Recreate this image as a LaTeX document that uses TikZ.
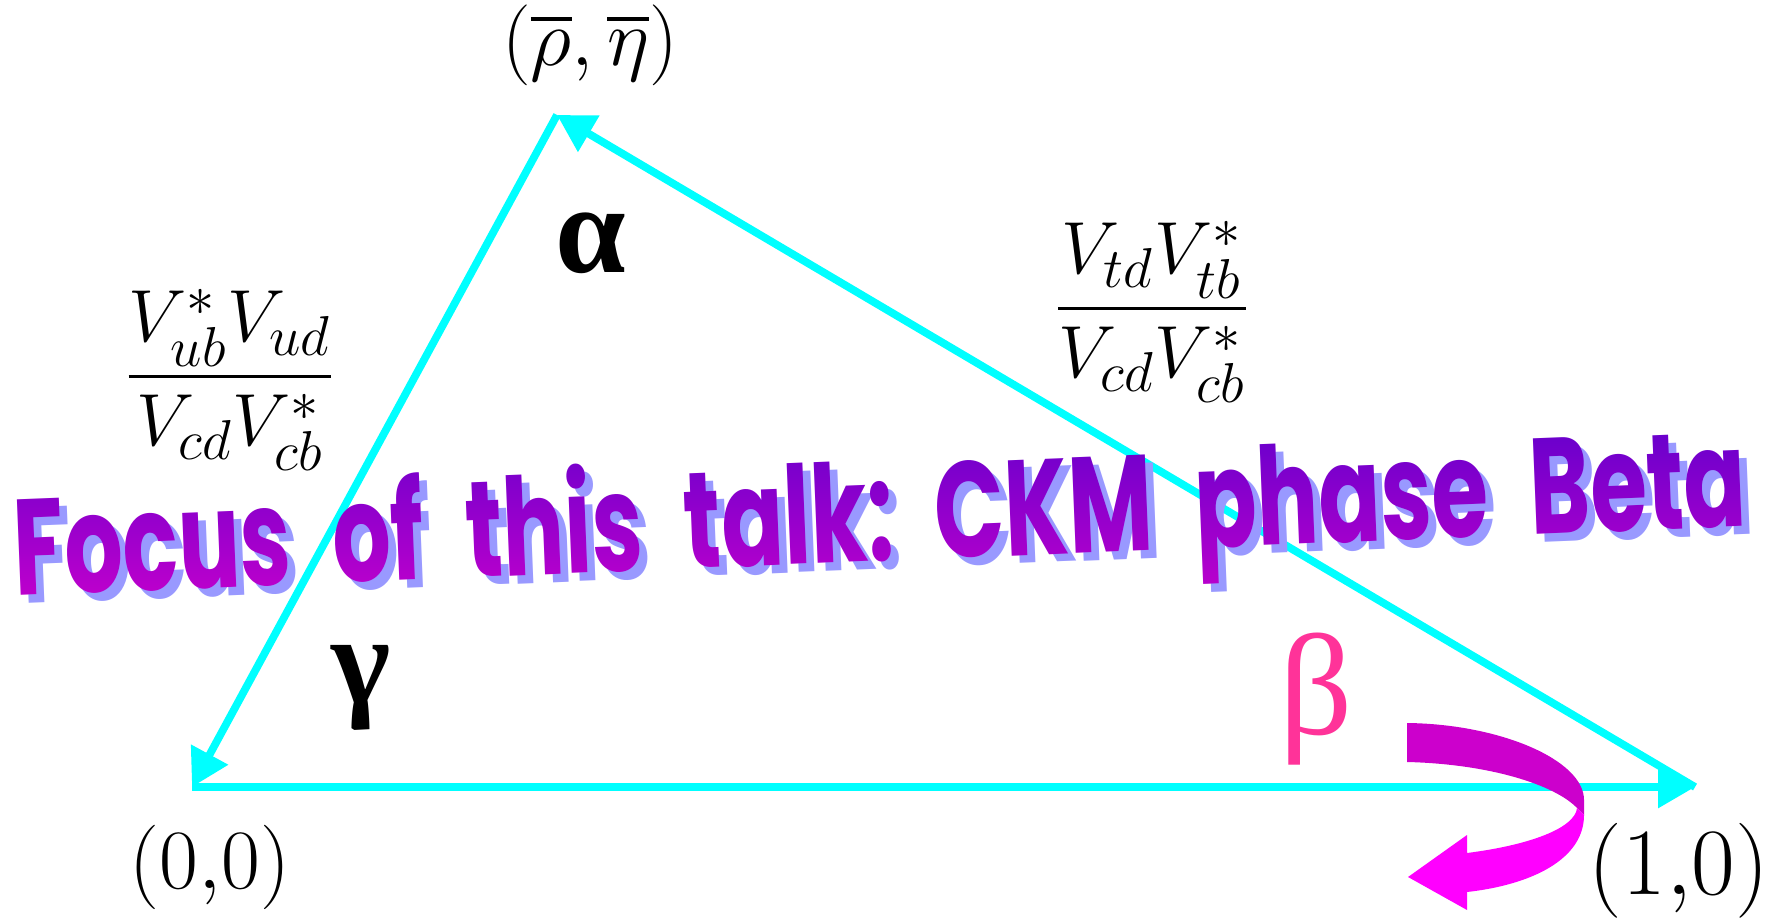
\RequirePackage{fix-cm}
\documentclass[tikz,border=0pt]{standalone}
\usepackage{amsmath,amssymb}
\usepackage{fontspec}
\usepackage{graphicx}
\usepackage{xcolor}
\usetikzlibrary{arrows.meta, positioning, calc, fadings}

\DeclareMathSizes{21}{21}{16}{12}
\newfontfamily\greekfont{Liberation Serif}
\newfontfamily\wordart{Poppins}
\definecolor{ckmcyan}{HTML}{00FFFF}
\definecolor{betapink}{HTML}{FF3399}
\definecolor{ribbondark}{HTML}{CC00CC}
\definecolor{ribbonlight}{HTML}{FF00FF}
\definecolor{wordshadow}{HTML}{9999FF}
\definecolor{wordtop}{HTML}{6600CC}
\definecolor{wordbot}{HTML}{CC00CC}
\newcommand{\wsp}{\hspace{0.45em}}
\newcommand{\focusline}{\resizebox{493pt}{31pt}{\wordart\bfseries Focus\wsp of\wsp this\wsp talk:\wsp CKM\wsp phase\wsp Beta}}

\begin{tikzfadingfrompicture}[name=focusfade]
\node[text=transparent!0, inner sep=0pt, rotate=2.3] (fadetext) at (0,0) {\focusline};
\end{tikzfadingfrompicture}

\begin{document}
\begin{tikzpicture}[
    x=0.01cm, y=-0.01cm,
    side/.style={draw=ckmcyan, line width=2.2pt, -{Triangle[length=10.5pt, width=11.5pt]}},
    corner/.style={inner sep=0pt, font=\fontsize{24}{28}\selectfont},
    angle/.style={inner sep=0pt, font=\fontsize{36}{40}\selectfont\greekfont\bfseries},
    ratio/.style={inner sep=0pt, font=\fontsize{21}{25}\selectfont},
    focus/.style={inner sep=0pt, anchor=base, rotate=2.3}
]
\useasboundingbox (0,0) rectangle (1774,919);
\coordinate (orig) at (192,787);
\coordinate (unit) at (1695,787);
\coordinate (apex) at (557,115);
\draw[side] (orig) -- (unit);
\draw[side] (unit) -- (apex);
\draw[side] (apex) -- (orig);
\node[corner] (origlabel) at (210,867) {$(0{,}0)$};
\node[corner, font=\fontsize{27}{31}\selectfont] (unitlabel) at (1679,871) {$(1{,}0)$};
\node[inner sep=0pt, font=\fontsize{23}{27}\selectfont] (apexlabel) at (590,45) {$(\overline{\rho},\overline{\eta})$};
\node[ratio] (leftratio) at (230,380) {$\displaystyle\frac{V_{ub}^{*}V_{ud}}{V_{cd}V_{cb}^{*}}$};
\node[ratio] (rightratio) at (1152,312) {$\displaystyle\frac{V_{td}V_{tb}^{*}}{V_{cd}V_{cb}^{*}}$};
\node[angle] (alphalabel) at (591,243) {α};
\node[angle] (gammalabel) at (361,688) {γ};
\node[angle, font=\fontsize{41}{45}\selectfont\greekfont, text=betapink] (betalabel) at (1316,699) {β};
\fill[ribbondark] (1407,723) .. controls (1500,724) and (1584,760) .. (1584,800) -- (1584,815) -- (1577,808) .. controls (1555,785) and (1490,764) .. (1407,762) -- cycle;
\fill[ribbonlight] (1577,808) -- (1584,815) .. controls (1584,860) and (1530,885) .. (1467,892) -- (1467,910) -- (1408,877) -- (1467,835) -- (1467,853) .. controls (1530,845) and (1575,828) .. (1577,808) -- cycle;
\coordinate (focuspt) at (882,561);
\node[focus, text=wordshadow] (focusshadow) at ($(focuspt)+(8,8)$) {\focusline};
\coordinate (focuscenter) at ($(focusshadow.center)+(-8,-8)$);
\shade[path fading=focusfade, fit fading=false, fading transform={shift={(focuscenter)}},
  top color=wordtop, bottom color=wordbot]
  ($(focuscenter)+(-900,-100)$) rectangle ($(focuscenter)+(900,100)$);
\end{tikzpicture}
\end{document}
